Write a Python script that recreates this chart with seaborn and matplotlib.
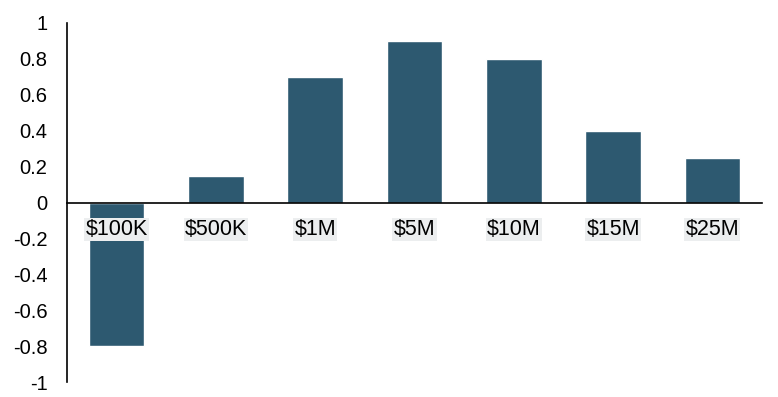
import pandas as pd
import matplotlib
matplotlib.use('Agg')
import matplotlib.pyplot as plt
import seaborn as sns

categories = ['$100K', '$500K', '$1M', '$5M', '$10M', '$15M', '$25M']
values = [-0.8, 0.15, 0.7, 0.9, 0.8, 0.4, 0.25]
yticks = [-1, -0.8, -0.6, -0.4, -0.2, 0, 0.2, 0.4, 0.6, 0.8, 1]
ytick_labels = ['-1', '-0.8', '-0.6', '-0.4', '-0.2', '0', '0.2', '0.4', '0.6', '0.8', '1']

df = pd.DataFrame({'category': categories, 'value': values})

sns.set_style('white')
plt.rcParams['font.family'] = ['Liberation Sans', 'DejaVu Sans']

fig = plt.figure(figsize=(7.78, 3.97), dpi=100)
ax = fig.add_axes([67 / 778, 15 / 397, 695 / 778, 359 / 397])

sns.barplot(data=df, x='category', y='value', color='#2d5970', saturation=1,
            width=0.56, ax=ax)

ax.set_axisbelow(False)
ax.set_xlim(-0.5, 6.5)
ax.set_ylim(-1, 1)
ax.set_yticks(yticks)
ax.set_yticklabels(ytick_labels, fontsize=14.5, color='black')
ax.set_xlabel('')
ax.set_ylabel('')

ax.spines['top'].set_visible(False)
ax.spines['right'].set_visible(False)
ax.spines['bottom'].set_position(('data', 0))
for s in ['left', 'bottom']:
    ax.spines[s].set_color('black')
    ax.spines[s].set_linewidth(1.2)

ax.tick_params(axis='y', length=0, pad=14)
ax.tick_params(axis='x', length=0, pad=12, labelsize=15.5, labelcolor='black')
for lbl in ax.get_xticklabels():
    lbl.set_bbox(dict(facecolor='#eceeef', edgecolor='none', pad=1.0))

fig.savefig('out.png', dpi=100)
